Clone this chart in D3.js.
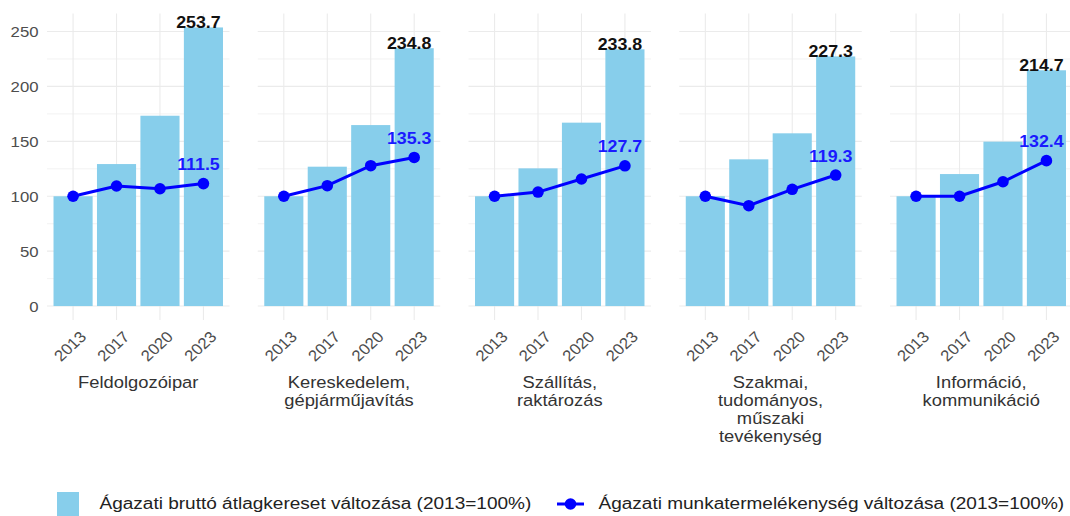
<!DOCTYPE html>
<html>
<head>
<meta charset="utf-8">
<script src="https://cdn.jsdelivr.net/npm/d3@7"></script>
<style>
  body { margin: 0; background: #fff; }
  text { font-family: "Liberation Sans", Arial, sans-serif; }
</style>
</head>
<body>
<div id="chart"></div>
<script>
/* global d3*/

//---------------------Data

const years = ["2013", "2017", "2020", "2023"]

const sectors = [
  ["Feldolgozóipar"],
  ["Kereskedelem,", "gépjárműjavítás"],
  ["Szállítás,", "raktározás"],
  ["Szakmai,", "tudományos,", "műszaki", "tevékenység"],
  ["Információ,", "kommunikáció"]
]

// bars: gross average wage change (2013=100)
const wageValues = [
  [100, 129.3, 173.3, 253.7],
  [100, 126.9, 164.8, 234.8],
  [100, 125.4, 167.0, 233.8],
  [100, 133.6, 157.3, 227.3],
  [100, 120.2, 149.7, 214.7]
]

// line: labour productivity change (2013=100)
const productivityValues = [
  [100, 109.3, 106.8, 111.5],
  [100, 109.6, 127.8, 135.3],
  [100, 103.8, 115.7, 127.7],
  [100, 91.4, 106.3, 119.3],
  [100, 100.0, 113.2, 132.4]
]

const yTicks = [0, 50, 100, 150, 200, 250]
const yMinorTicks = [25, 75, 125, 175, 225]

const legendLabels = [
  "Ágazati bruttó átlagkereset változása (2013=100%)",
  "Ágazati munkatermelékenység változása (2013=100%)"
]

function draw () {

//---------------------Dimensions

let dimensions = {
  width: 1070,
  height: 516,
  firstPanel: 47,
  panelStep: 210.75,
  panelWidth: 182.5,
  top: 13.5,
  bottom: 320
}

const stretch = 1.08
const barColor = "#87CEEB"
const lineColor = "#0000FF"
const gridColor = "#EBEBEB"

const svg = d3.select("#chart")
  .append("svg")
  .attr("width", dimensions.width)
  .attr("height", dimensions.height)

//---------------------Scales

const yScale = d3.scaleLinear()
  .domain([-12.7, 266.4])
  .range([dimensions.bottom, dimensions.top])

const xScale = d3.scalePoint()
  .domain(years)
  .range([0, dimensions.panelWidth])
  .padding(0.6)

const barWidth = xScale.step() * 0.9

//---------------------Y axis labels (left only)

svg.append("g")
  .selectAll("text")
  .data(yTicks)
  .join("text")
  .attr("transform", d => `translate(38.5,${yScale(d)}) scale(${stretch},1)`)
  .attr("text-anchor", "end")
  .attr("dy", "0.36em")
  .text(d => d)
  .style("fill", "#4D4D4D")
  .style("font-size", "15.5px")

//---------------------Panels

sectors.forEach((sector, i) => {

  const panel = svg.append("g")
    .attr("transform", `translate(${dimensions.firstPanel + i * dimensions.panelStep},0)`)

  // grid
  panel.selectAll(".minor")
    .data(yMinorTicks)
    .join("line")
    .attr("x1", 0)
    .attr("x2", dimensions.panelWidth)
    .attr("y1", d => yScale(d))
    .attr("y2", d => yScale(d))
    .attr("stroke", gridColor)
    .attr("stroke-width", 0.6)

  panel.selectAll(".major")
    .data(yTicks)
    .join("line")
    .attr("x1", 0)
    .attr("x2", dimensions.panelWidth)
    .attr("y1", d => yScale(d))
    .attr("y2", d => yScale(d))
    .attr("stroke", gridColor)
    .attr("stroke-width", 1.1)

  panel.selectAll(".vgrid")
    .data(years)
    .join("line")
    .attr("x1", d => xScale(d))
    .attr("x2", d => xScale(d))
    .attr("y1", dimensions.top)
    .attr("y2", dimensions.bottom)
    .attr("stroke", gridColor)
    .attr("stroke-width", 1.1)

  // bars
  const bars = years.map((y, j) => ({ year: y, value: wageValues[i][j] }))
  panel.selectAll("rect")
    .data(bars)
    .join("rect")
    .attr("x", d => xScale(d.year) - barWidth / 2)
    .attr("width", barWidth)
    .attr("y", d => yScale(d.value))
    .attr("height", d => yScale(0) - yScale(d.value))
    .attr("fill", barColor)

  // productivity line
  const points = years.map((y, j) => ({ year: y, value: productivityValues[i][j] }))

  const lineGenerator = d3.line()
    .x(d => xScale(d.year))
    .y(d => yScale(d.value))

  panel.append("path")
    .attr("d", lineGenerator(points))
    .attr("fill", "none")
    .attr("stroke", lineColor)
    .attr("stroke-width", 3)

  panel.selectAll("circle")
    .data(points)
    .join("circle")
    .attr("cx", d => xScale(d.year))
    .attr("cy", d => yScale(d.value))
    .attr("r", 5.8)
    .attr("fill", lineColor)

  // value labels for last year
  const lastBar = bars[bars.length - 1]
  panel.append("text")
    .attr("transform", `translate(${xScale(lastBar.year) - 5},${yScale(lastBar.value) + 1}) scale(${stretch},1)`)
    .attr("text-anchor", "middle")
    .text(lastBar.value.toFixed(1))
    .style("font-weight", "bold")
    .style("font-size", "16.5px")
    .style("fill", "#111")

  const lastPoint = points[points.length - 1]
  panel.append("text")
    .attr("transform", `translate(${xScale(lastPoint.year) - 5},${yScale(lastPoint.value) - 13.5}) scale(${stretch},1)`)
    .attr("text-anchor", "middle")
    .text(lastPoint.value.toFixed(1))
    .style("font-weight", "bold")
    .style("font-size", "16.5px")
    .style("fill", "#1a1aff")

  // x tick labels, rotated
  panel.selectAll(".tick-label")
    .data(years)
    .join("text")
    .attr("transform", d => `translate(${xScale(d) + 10},${334}) scale(${stretch},1) rotate(-45)`)
    .attr("text-anchor", "end")
    .attr("dy", "0.35em")
    .text(d => d)
    .style("fill", "#4D4D4D")
    .style("font-size", "15.5px")

  // sector label
  const label = panel.append("text")
    .attr("transform", `translate(${dimensions.panelWidth / 2},388) scale(${stretch},1)`)
    .attr("text-anchor", "middle")
    .style("fill", "#333")
    .style("font-size", "17px")

  label.selectAll("tspan")
    .data(sector)
    .join("tspan")
    .attr("x", 0)
    .attr("y", (d, k) => k * 18)
    .text(d => d)
})

//---------------------Legend

const legend = svg.append("g")

legend.append("rect")
  .attr("x", 57)
  .attr("y", 492)
  .attr("width", 22)
  .attr("height", 24)
  .attr("fill", barColor)

legend.append("text")
  .attr("transform", `translate(99.5,509) scale(1.1,1)`)
  .text(legendLabels[0])
  .style("fill", "#222")
  .style("font-size", "17.3px")

legend.append("line")
  .attr("x1", 557)
  .attr("x2", 584)
  .attr("y1", 504)
  .attr("y2", 504)
  .attr("stroke", lineColor)
  .attr("stroke-width", 3)

legend.append("circle")
  .attr("cx", 570.5)
  .attr("cy", 504)
  .attr("r", 5.8)
  .attr("fill", lineColor)

legend.append("text")
  .attr("transform", `translate(598.5,509) scale(1.1,1)`)
  .text(legendLabels[1])
  .style("fill", "#222")
  .style("font-size", "17.3px")
}

draw()
</script>
</body>
</html>
